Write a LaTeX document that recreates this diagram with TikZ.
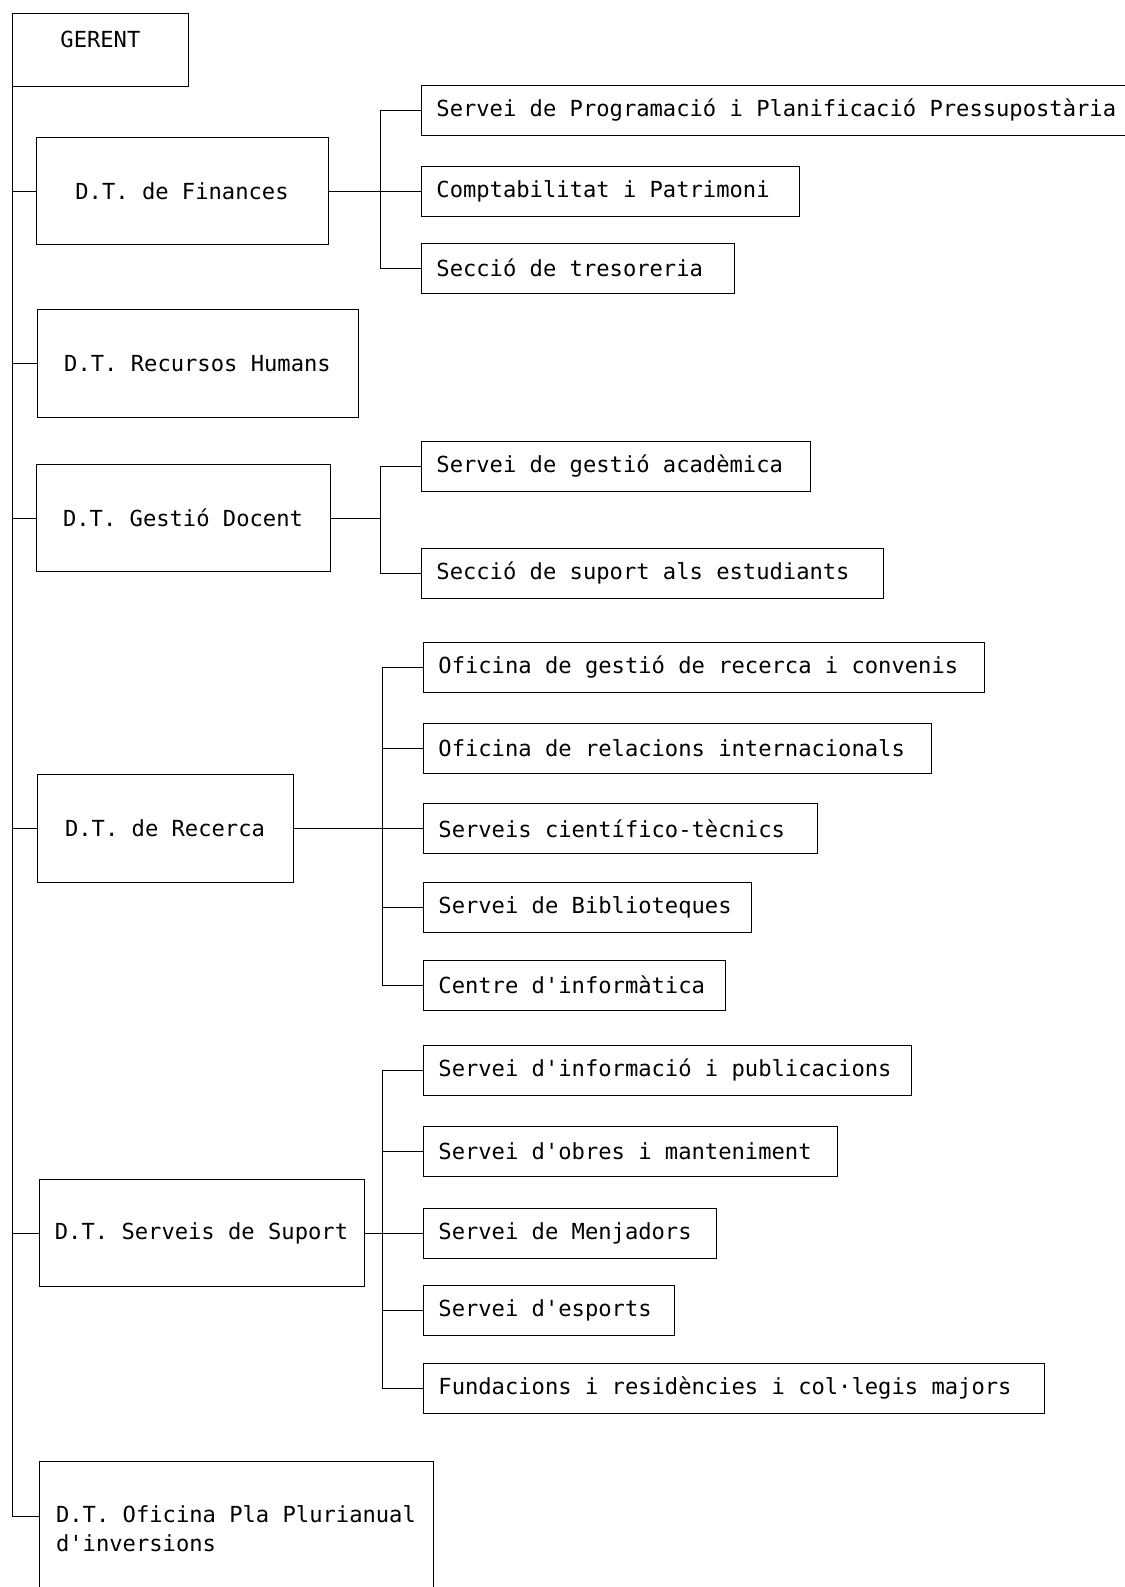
\documentclass[tikz,border=0pt]{standalone}
\usepackage{fontspec}
\setmonofont{DejaVu Sans Mono}

\begin{document}
\begin{tikzpicture}[x=0.02cm,y=-0.02cm,
  every node/.style={font=\ttfamily\fontsize{12.6pt}{16.5pt}\selectfont},
  box/.style={draw,line width=0.5pt,inner sep=0pt},
  dtbox/.style={box,minimum height=2.15cm},
  unit/.style={box,anchor=west,minimum height=1cm,inner xsep=0.3cm,align=flush left},
  link/.style={line width=0.5pt}]
  \useasboundingbox (0,0) rectangle (1125,1587);
  \node[box,anchor=north west,minimum width=3.52cm,text height=0.68cm,text depth=0.78cm] (gerent) at (12,13) {GERENT};
  \node[dtbox,minimum width=5.84cm] (finances) at (182,191) {D.T. de Finances};
  \node[dtbox,minimum width=6.42cm] (rrhh) at (197.5,363.5) {D.T. Recursos Humans};
  \node[dtbox,minimum width=5.88cm] (docent) at (183,518) {D.T. Gestió Docent};
  \node[dtbox,minimum width=5.12cm] (recerca) at (165,828.5) {D.T. de Recerca};
  \node[dtbox,minimum width=6.5cm] (suport) at (201.5,1233) {D.T. Serveis de Suport};
  \node[dtbox,minimum width=7.88cm,minimum height=2.72cm,align=left] (pla) at (236,1529) {D.T. Oficina Pla Plurianual\\d'inversions};
  % unitats
  \node[unit,text width=13.7cm] (fin1) at (421,110) {Servei de Programació i Planificació Pressupostària};
  \node[unit,text width=6.96cm] (fin2) at (421,191) {Comptabilitat i Patrimoni};
  \node[unit,text width=5.67cm] (fin3) at (421,268) {Secció de tresoreria};
  \node[unit,text width=7.18cm] (doc1) at (421,466.5) {Servei de gestió acadèmica};
  \node[unit,text width=8.64cm] (doc2) at (421,573) {Secció de suport als estudiants};
  \node[unit,text width=10.62cm] (rec1) at (423,667) {Oficina de gestió de recerca i convenis};
  \node[unit,text width=9.56cm] (rec2) at (423,748) {Oficina de relacions internacionals};
  \node[unit,text width=7.29cm] (rec3) at (423,828.5) {Serveis científico-tècnics};
  \node[unit,text width=5.97cm] (rec4) at (423,907) {Servei de Biblioteques};
  \node[unit,text width=5.45cm] (rec5) at (423,985) {Centre d'informàtica};
  \node[unit,text width=9.17cm] (sup1) at (423,1070) {Servei d'informació i publicacions};
  \node[unit,text width=7.69cm] (sup2) at (423,1151.5) {Servei d'obres i manteniment};
  \node[unit,text width=5.27cm] (sup3) at (423,1233) {Servei de Menjadors};
  \node[unit,text width=4.42cm] (sup4) at (423,1310) {Servei d'esports};
  \node[unit,text width=11.82cm] (sup5) at (423,1388) {Fundacions i residències i col·legis majors};
  % connexions
  \foreach \d in {finances,rrhh,docent,recerca,suport}
    \draw[link] (gerent.south west) |- (\d.west);
  \draw[link] (gerent.south west) |- ([yshift=0.26cm]pla.west);
  \foreach \p/\kids in {finances/{fin1,fin2,fin3},docent/{doc1,doc2},recerca/{rec1,rec2,rec3,rec4,rec5},suport/{sup1,sup2,sup3,sup4,sup5}}
    \foreach \c in \kids
      \draw[link] (\p.east) -| ([xshift=-0.81cm]\c.west) -- (\c.west);
\end{tikzpicture}
\end{document}
